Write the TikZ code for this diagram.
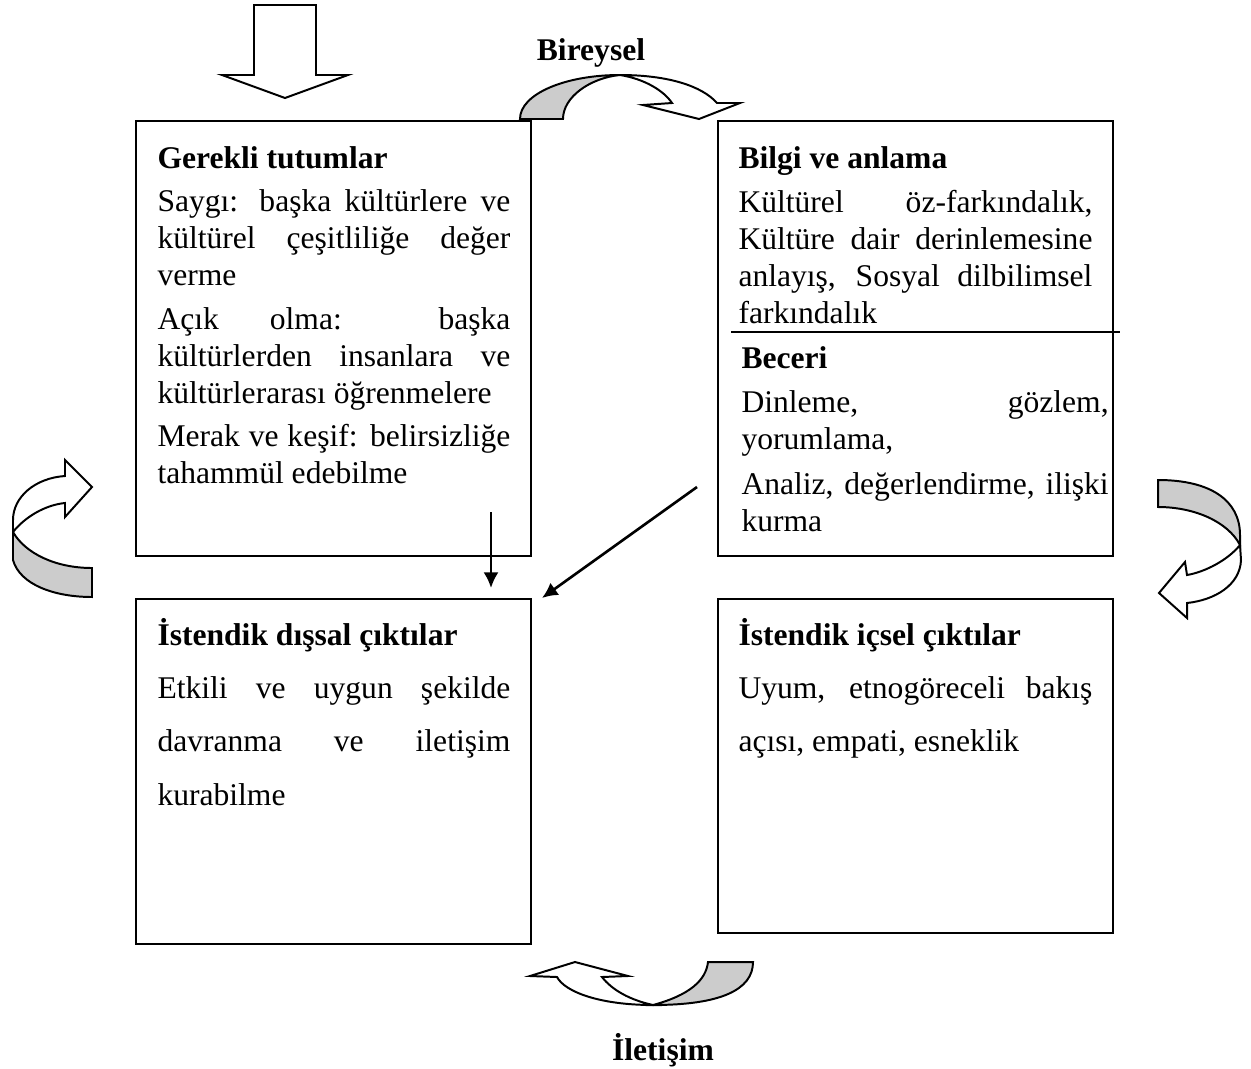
\documentclass[tikz,border=0pt]{standalone}
\usepackage{fontspec}
\setmainfont{Liberation Serif}
\usetikzlibrary{arrows.meta}
\tikzset{>={Latex[width=5.7pt,length=5.9pt]}}
\definecolor{golge}{RGB}{204,204,204}
\newcommand{\govde}{\fontsize{12}{14.06}\selectfont\hyphenpenalty=10000\exhyphenpenalty=10000}
\newcommand{\genis}{\fontsize{12}{20.3}\selectfont\hyphenpenalty=10000\exhyphenpenalty=10000}
\tikzset{
  kutu/.style={draw, line width=0.75pt, anchor=north west, inner sep=0pt, minimum width=150.1pt},
  metin/.style={anchor=base west, inner sep=0pt, align=justify, font=\govde},
  blok/.style={draw, line width=0.75pt, fill=white, line join=miter},
  serit/.style={draw, line width=0.75pt, fill=golge},
  etiket/.style={anchor=base, inner sep=0pt, font=\govde\bfseries}
}

\begin{document}
\begin{tikzpicture}[x=0.38pt,y=-0.38pt]
	\useasboundingbox (0,0) rectangle (1251,1068);
	% kutular
	\node[kutu, minimum height=165.3pt] (tutum) at (135,120) {};
	\node[kutu, minimum height=165.3pt] (bilgi) at (717,120) {};
	\node[kutu, minimum height=131.1pt] (dissal) at (135,598) {};
	\node[kutu, minimum height=126.9pt] (icsel) at (717,598) {};
	\draw[line width=0.75pt] (731,332) -- (1120,332);
	% kutu metinleri
	\node[metin, text width=134.1pt] (tutummetin) at (157,168) {\textbf{Gerekli tutumlar}\par\vspace{2.5pt}
		Saygı: başka kültürlere ve\linebreak kültürel çeşitliliğe değer\linebreak verme\par\vspace{2.5pt}
		Açık olma: başka\linebreak kültürlerden insanlara ve\linebreak kültürlerarası öğrenmelere\par\vspace{2.5pt}
		Merak ve keşif: belirsizliğe\linebreak tahammül edebilme};
	\node[metin, text width=134.5pt] (bilgimetin) at (738,168) {\textbf{Bilgi ve anlama}\par\vspace{3pt}
		Kültürel öz-farkındalık,\linebreak Kültüre dair derinlemesine\linebreak anlayış, Sosyal dilbilimsel\linebreak farkındalık};
	\node[metin, text width=139.5pt] (beceri) at (741,368) {\textbf{Beceri}\par\vspace{3pt}
		Dinleme, gözlem,\linebreak yorumlama,\par\vspace{3pt}
		Analiz, değerlendirme, ilişki\linebreak kurma};
	\node[metin, text width=134.1pt, font=\genis] (dissalmetin) at (157,645) {\textbf{İstendik dışsal çıktılar}\par
		Etkili ve uygun şekilde\linebreak davranma ve iletişim\linebreak kurabilme};
	\node[metin, text width=134.5pt, font=\genis] (icselmetin) at (738,645) {\textbf{İstendik içsel çıktılar}\par
		Uyum, etnogöreceli bakış\linebreak açısı, empati, esneklik};
	% ic oklar
	\coordinate (dikbas) at (491,512);
	\coordinate (dikuc) at (491,588);
	\coordinate (capbas) at (697,487);
	\coordinate (capuc) at (542,598);
	\draw[->, line width=1pt] (dikbas) -- (dikuc);
	\draw[->, line width=1pt] (capbas) -- (capuc);
	% ust blok ok
	\draw[blok] (254,5) -- (316,5) -- (316,75) -- (348,75) -- (285,98) -- (222,75) -- (254,75) -- cycle;
	% Bireysel egri ok
	\draw[serit] (520,119) .. controls (520,94) and (565,75) .. (620,75) .. controls (590,78) and (563,97) .. (563,119) -- cycle;
	\draw[blok] (620,75) .. controls (645,79) and (664,91) .. (672,103) -- (643,105) -- (699,119) -- (740,103) -- (717,103) .. controls (702,86) and (668,75) .. (620,75) -- cycle;
	\node[etiket] (bireysel) at (591,60) {Bireysel};
	% sol egri ok
	\draw[blok] (13,532) .. controls (25,517) and (45,505) .. (65,503) -- (65,517) -- (92,487) -- (65,460) -- (65,476) .. controls (35,478) and (13,497) .. (13,520) -- cycle;
	\draw[serit] (13,532) -- (13,560) .. controls (20,585) and (55,597) .. (92,597) -- (92,568) .. controls (55,568) and (25,553) .. (13,532) -- cycle;
	% sag egri ok
	\draw[serit] (1158,480) .. controls (1210,480) and (1240,500) .. (1240,535) -- (1240,545) .. controls (1228,522) and (1195,507) .. (1158,507) -- cycle;
	\draw[blok] (1240,545) -- (1241,560) .. controls (1240,585) and (1215,600) .. (1187,603) -- (1187,618) -- (1159,593) -- (1185,562) -- (1187,575) .. controls (1205,572) and (1228,560) .. (1240,545) -- cycle;
	% alt egri ok
	\draw[serit] (708,962) -- (753,962) .. controls (753,990) and (720,1005) .. (653,1005) .. controls (690,995) and (706,980) .. (708,962) -- cycle;
	\draw[blok] (653,1005) .. controls (600,1005) and (565,992) .. (557,977) -- (530,976) -- (575,962) -- (628,976) -- (602,977) .. controls (612,990) and (630,1000) .. (653,1005) -- cycle;
	\node[etiket] (iletisim) at (663,1060) {İletişim};
\end{tikzpicture}
\end{document}
